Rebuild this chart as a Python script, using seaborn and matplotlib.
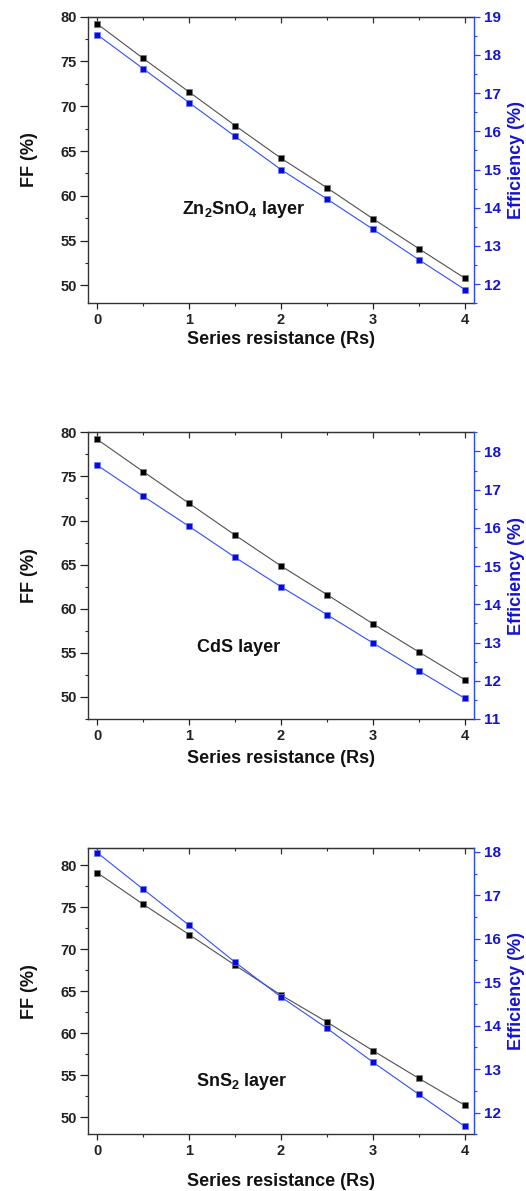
import matplotlib
matplotlib.use("Agg")
import matplotlib.pyplot as plt
import seaborn as sns
import pandas as pd
from matplotlib.ticker import MultipleLocator

rs = [0, 0.5, 1, 1.5, 2, 2.5, 3, 3.5, 4]

ff_zso = [79.2, 75.35, 71.6, 67.85, 64.2, 60.9, 57.45, 54.1, 50.8]
eff_zso = [18.53, 17.64, 16.75, 15.87, 15.0, 14.23, 13.44, 12.64, 11.86]

ff_cds = [79.2, 75.55, 71.95, 68.35, 64.85, 61.6, 58.3, 55.1, 51.95]
eff_cds = [17.64, 16.83, 16.04, 15.23, 14.46, 13.73, 12.99, 12.26, 11.54]

ff_sns = [79.1, 75.35, 71.75, 68.1, 64.55, 61.35, 57.95, 54.65, 51.45]
eff_sns = [17.98, 17.14, 16.31, 15.46, 14.66, 13.94, 13.16, 12.42, 11.68]

layer_labels = ["Zn$_\\mathbf{2}$SnO$_\\mathbf{4}$ layer", "CdS layer", "SnS$_\\mathbf{2}$ layer"]
xlabel = "Series resistance (Rs)"
ylabel_left = "FF (%)"
ylabel_right = "Efficiency (%)"

sns.set_style("ticks")
plt.rcParams["font.family"] = ["Liberation Sans", "DejaVu Sans"]
plt.rcParams["font.weight"] = "bold"
plt.rcParams["mathtext.fontset"] = "custom"
plt.rcParams["mathtext.rm"] = "Liberation Sans:bold"
plt.rcParams["mathtext.bf"] = "Liberation Sans:bold"
plt.rcParams["mathtext.it"] = "Liberation Sans:bold"

BLUE_TXT = "#1414d2"
BLUE_SPINE = "#2b45ff"
BLUE_MK = "#0a0ad8"
BLUE_LN = "#2f4dff"

W, H = 526, 1191
fig = plt.figure(figsize=(W / 100, H / 100), dpi=100)

panels = [
    dict(ff=ff_zso, eff=eff_zso, top=16.7, bot=303.3, ylim=(48, 80), ylim2=(11.5, 19),
         txt=(0.404, 0.329), xlpad=3, label=layer_labels[0]),
    dict(ff=ff_cds, eff=eff_cds, top=432.3, bot=719.0, ylim=(47.5, 80), ylim2=(11, 18.5),
         txt=(0.391, 0.251), xlpad=5, label=layer_labels[1]),
    dict(ff=ff_sns, eff=eff_sns, top=848.3, bot=1134.3, ylim=(48, 82), ylim2=(11.5, 18.08),
         txt=(0.398, 0.184), xlpad=11, label=layer_labels[2]),
]

left_px, right_px = 88, 474
for p in panels:
    ax = fig.add_axes([left_px / W, 1 - p["bot"] / H, (right_px - left_px) / W, (p["bot"] - p["top"]) / H])
    df = pd.DataFrame({"Rs": rs, "FF": p["ff"], "Eff": p["eff"]})
    sns.lineplot(data=df, x="Rs", y="FF", ax=ax, color="#505050", lw=0.8,
                 marker="s", markersize=5.0, markerfacecolor="black",
                 markeredgecolor="#777777", markeredgewidth=0.5, zorder=3)
    ax.set_xlim(-0.1, 4.1)
    ax.set_ylim(*p["ylim"])
    ax.xaxis.set_major_locator(MultipleLocator(1))
    ax.xaxis.set_minor_locator(MultipleLocator(0.5))
    ax.yaxis.set_major_locator(MultipleLocator(5))
    ax.yaxis.set_minor_locator(MultipleLocator(2.5))
    ax.tick_params(axis="both", which="major", direction="out", length=4.5, width=0.9,
                   labelsize=10.5, colors="#222222", pad=2.5)
    ax.tick_params(axis="both", which="minor", direction="out", length=2.5, width=0.8)
    ax.tick_params(axis="y", which="major", length=5.5)
    for s in ["left", "bottom", "top"]:
        ax.spines[s].set_color("#333333")
        ax.spines[s].set_linewidth(1.0)
    ax.spines["right"].set_visible(False)
    ax.set_xlabel(xlabel, fontsize=13, fontweight="bold", labelpad=p["xlpad"], color="#111111")
    ax.set_ylabel(ylabel_left, fontsize=13, fontweight="bold", labelpad=16, color="#111111")
    for t in ax.get_xticklabels() + ax.get_yticklabels():
        t.set_fontweight("bold")

    sec = ax.secondary_xaxis("top")
    sec.xaxis.set_major_locator(MultipleLocator(1))
    sec.xaxis.set_minor_locator(MultipleLocator(0.5))
    sec.tick_params(which="major", direction="in", length=4, width=0.9, labeltop=False, colors="#333333")
    sec.tick_params(which="minor", direction="in", length=2.3, width=0.8)
    sec.spines["top"].set_color("#333333")

    ax.text(p["txt"][0], p["txt"][1], p["label"], transform=ax.transAxes,
            ha="center", va="center", fontsize=13, fontweight="bold", color="#111111")

    ax2 = ax.twinx()
    sns.lineplot(data=df, x="Rs", y="Eff", ax=ax2, color=BLUE_LN, lw=0.8,
                 marker="s", markersize=5.0, markerfacecolor=BLUE_MK,
                 markeredgecolor="#6a78ff", markeredgewidth=0.5, zorder=3)
    ax2.set_ylim(*p["ylim2"])
    ax2.yaxis.set_major_locator(MultipleLocator(1))
    ax2.yaxis.set_minor_locator(MultipleLocator(0.5))
    ax2.tick_params(axis="y", which="major", direction="out", length=4.5, width=0.9,
                    labelsize=11, colors=BLUE_SPINE, labelcolor=BLUE_TXT, pad=2.5)
    ax2.tick_params(axis="y", which="minor", direction="out", length=2.5, width=0.8, colors=BLUE_SPINE)
    for s in ["left", "bottom", "top"]:
        ax2.spines[s].set_visible(False)
    ax2.spines["right"].set_color(BLUE_SPINE)
    ax2.spines["right"].set_linewidth(1.0)
    ax2.set_ylabel(ylabel_right, fontsize=13, fontweight="bold", color=BLUE_TXT, labelpad=5)
    for t in ax2.get_yticklabels():
        t.set_fontweight("bold")
    ax2.set_xlim(-0.1, 4.1)

fig.savefig("out.png", dpi=100)
